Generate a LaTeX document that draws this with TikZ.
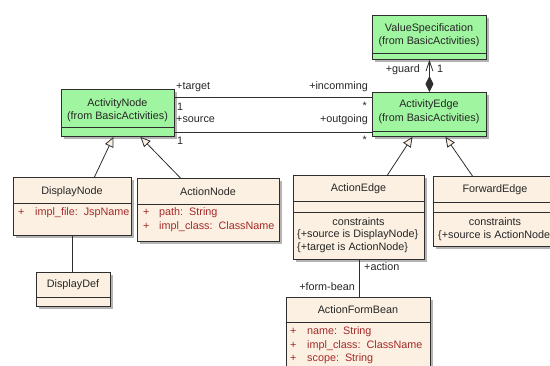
\documentclass[tikz,border=0pt]{standalone}
\usepackage{fontspec}
\setmainfont{Liberation Sans}
\usetikzlibrary{arrows.meta,shadows}
\definecolor{umlgreen}{HTML}{A0F5A0}
\definecolor{umlbeige}{HTML}{FBF0E1}
\definecolor{umlred}{HTML}{A52A2A}
\definecolor{umlline}{HTML}{2E2E2E}
\definecolor{umlshadow}{HTML}{B4B4B4}

\begin{document}
\begin{tikzpicture}[x=1pt, y=-1pt]
\tikzstyle{every node}=[inner sep=0pt, text=black!85,
                        font=\fontsize{10.8}{13.5}\selectfont]
\tikzstyle{cls}=[draw=umlline, line width=0.9pt, anchor=north west,
                 drop shadow={shadow xshift=3pt, shadow yshift=-3pt,
                 fill=umlshadow, opacity=1}]
\tikzstyle{sep}=[draw=umlline, line width=0.9pt]
\tikzstyle{line}=[draw=umlline, line width=0.8pt]
\tikzstyle{gen}=[line, -{Triangle[open, fill=umlbeige, length=10pt, width=9pt]}]
\tikzstyle{attr}=[anchor=mid west, text=umlred]
\useasboundingbox (0,0) rectangle (550,365);
\clip (0,0) rectangle (550,365);
\node[cls, fill=umlgreen, minimum width=114pt, minimum height=44pt] (vs) at (372,15) {};
\node[cls, fill=umlgreen, minimum width=114pt, minimum height=44pt] (ae) at (372,92) {};
\node[cls, fill=umlgreen, minimum width=113pt, minimum height=47pt] (an) at (61,89) {};
\node[cls, fill=umlbeige, minimum width=118pt, minimum height=58pt] (dn) at (13,177) {};
\node[cls, fill=umlbeige, minimum width=142pt, minimum height=63pt] (acn) at (137,178) {};
\node[cls, fill=umlbeige, minimum width=74pt, minimum height=34pt] (dd) at (36,272) {};
\node[cls, fill=umlbeige, minimum width=131pt, minimum height=84pt] (aed) at (293,175) {};
\node[cls, fill=umlbeige, minimum width=124pt, minimum height=70pt] (fe) at (433,176) {};
\node[cls, fill=umlbeige, minimum width=144pt, minimum height=90pt] (afb) at (286,297) {};
\draw[sep] (vs.west |- 0,53) -- (vs.east |- 0,53);
\draw[sep] (ae.west |- 0,131) -- (ae.east |- 0,131);
\draw[sep] (an.west |- 0,127) -- (an.east |- 0,127);
\draw[sep] (dn.west |- 0,203) -- (dn.east |- 0,203);
\draw[sep] (acn.west |- 0,204) -- (acn.east |- 0,204);
\draw[sep] (dd.west |- 0,297) -- (dd.east |- 0,297);
\draw[sep] (aed.west |- 0,201) -- (aed.east |- 0,201);
\draw[sep] (aed.west |- 0,212) -- (aed.east |- 0,212);
\draw[sep] (fe.west |- 0,202) -- (fe.east |- 0,202);
\draw[sep] (fe.west |- 0,212) -- (fe.east |- 0,212);
\draw[sep] (afb.west |- 0,322) -- (afb.east |- 0,322);
\node[align=center] (vsname) at (429,35) {ValueSpecification\\(from BasicActivities)};
\node[align=center] (aename) at (429,111.5) {ActivityEdge\\(from BasicActivities)};
\node[align=center] (anname) at (117.5,110) {ActivityNode\\(from BasicActivities)};
\node (dnname) at (72,192) {DisplayNode};
\node (acnname) at (208,192) {ActionNode};
\node (ddname) at (73,285) {DisplayDef};
\node (aedname) at (358.5,189) {ActionEdge};
\node (fename) at (495,190) {ForwardEdge};
\node (afbname) at (358,310) {ActionFormBean};
\node (aedcons) at (358.5,222) {constraints};
\node[anchor=mid west] (aedc1) at (297,235) {\{+source is DisplayNode\}};
\node[anchor=mid west] (aedc2) at (297,248) {\{+target is ActionNode\}};
\node (fecons) at (495,222) {constraints};
\node[anchor=mid west] (fec1) at (438,236) {\{+source is ActionNode\}};
\node[attr] (dnp1) at (18,213) {+};
\node[attr] (dna1) at (35,213) {impl\_file:\ \ JspName};
\node[attr] (acnp1) at (143,213) {+};
\node[attr] (acna1) at (159,213) {path:\ \ String};
\node[attr] (acnp2) at (143,227) {+};
\node[attr] (acna2) at (159,227) {impl\_class:\ \ ClassName};
\node[attr] (afbp1) at (290,332) {+};
\node[attr] (afba1) at (307,332) {name:\ \ String};
\node[attr] (afbp2) at (290,346) {+};
\node[attr] (afba2) at (307,346) {impl\_class:\ \ ClassName};
\node[attr] (afbp3) at (290,359) {+};
\node[attr] (afba3) at (307,359) {scope:\ \ String};
\draw[line] ([yshift=15.5pt]an.east) -- ([yshift=15.5pt]an.east -| ae.west);
\draw[line] ([yshift=-19.5pt]an.east) -- ([yshift=-19.5pt]an.east -| ae.west);
\draw[gen] ([xshift=22pt]dn.north) -- ([xshift=-4.5pt]an.south);
\draw[gen] ([xshift=-28pt]acn.north) -- ([xshift=22.5pt]an.south);
\draw[gen] ([xshift=28.5pt]aed.north) -- ([xshift=-17pt]ae.south);
\draw[gen] ([xshift=-23pt]fe.north) -- ([xshift=16pt]ae.south);
\draw[line] (dn.south) -- (dn.south |- dd.north);
\draw[line] (aed.south) -- (aed.south |- afb.north);
\draw[line, {Diamond[length=16pt, width=8pt]}-{Straight Barb[length=10pt, width=7pt]}]
  (ae.north) -- (vs.south);
\node[anchor=mid west] (ltarget) at (176,87) {+target};
\node[anchor=mid west] (ltone) at (177,108) {1};
\node[anchor=mid west] (lsource) at (176,120) {+source};
\node[anchor=mid west] (lsone) at (177,142) {1};
\node[anchor=mid east] (lin) at (368,87) {+incomming};
\node[anchor=mid east] (linstar) at (367,107) {*};
\node[anchor=mid east] (lout) at (368,120) {+outgoing};
\node[anchor=mid east] (loutstar) at (367,141) {*};
\node[anchor=mid east] (lguard) at (420,70) {+guard};
\node[anchor=mid west] (lgone) at (437,70) {1};
\node[anchor=mid west] (laction) at (364,268) {+action};
\node[anchor=mid east] (lbean) at (355,288) {+form-bean};
\end{tikzpicture}
\end{document}
